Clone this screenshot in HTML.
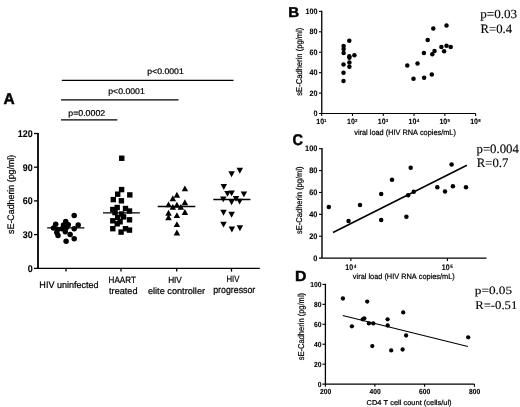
<!DOCTYPE html>
<html><head><meta charset="utf-8"><style>
html,body{margin:0;padding:0;background:#fff;}
body{width:520px;height:407px;overflow:hidden;}
svg{display:block;filter:grayscale(1);font-kerning:none;text-rendering:geometricPrecision;}
</style></head><body>
<svg width="520" height="407" viewBox="0 0 520 407">
<rect width="520" height="407" fill="#fff"/>
<line x1="38.00" y1="132.90" x2="38.00" y2="268.30" stroke="#000" stroke-width="1.8"/>
<line x1="34.00" y1="234.60" x2="38.00" y2="234.60" stroke="#000" stroke-width="1.3"/>
<line x1="34.00" y1="200.90" x2="38.00" y2="200.90" stroke="#000" stroke-width="1.3"/>
<line x1="34.00" y1="167.20" x2="38.00" y2="167.20" stroke="#000" stroke-width="1.3"/>
<line x1="34.00" y1="133.50" x2="38.00" y2="133.50" stroke="#000" stroke-width="1.3"/>
<line x1="34.00" y1="268.30" x2="259.80" y2="268.30" stroke="#000" stroke-width="1.3"/>
<line x1="66.00" y1="268.30" x2="66.00" y2="271.60" stroke="#000" stroke-width="1.3"/>
<line x1="121.00" y1="268.30" x2="121.00" y2="271.60" stroke="#000" stroke-width="1.3"/>
<line x1="176.70" y1="268.30" x2="176.70" y2="271.60" stroke="#000" stroke-width="1.3"/>
<line x1="231.50" y1="268.30" x2="231.50" y2="271.60" stroke="#000" stroke-width="1.3"/>
<text transform="translate(17.78 136.95) scale(0.9200 1)" font-family="'Liberation Sans', sans-serif" font-weight="bold" font-size="9.700" stroke="#000" stroke-width="0.1">120</text>
<text transform="translate(22.74 170.65) scale(0.9200 1)" font-family="'Liberation Sans', sans-serif" font-weight="bold" font-size="9.700" stroke="#000" stroke-width="0.1">90</text>
<text transform="translate(22.74 204.35) scale(0.9200 1)" font-family="'Liberation Sans', sans-serif" font-weight="bold" font-size="9.700" stroke="#000" stroke-width="0.1">60</text>
<text transform="translate(22.74 238.05) scale(0.9200 1)" font-family="'Liberation Sans', sans-serif" font-weight="bold" font-size="9.700" stroke="#000" stroke-width="0.1">30</text>
<text transform="translate(27.70 271.75) scale(0.9200 1)" font-family="'Liberation Sans', sans-serif" font-weight="bold" font-size="9.700" stroke="#000" stroke-width="0.1">0</text>
<text transform="translate(13.65 233.95) rotate(-90) scale(0.9381 1)" font-family="'Liberation Sans', sans-serif" font-weight="normal" font-size="9.448" stroke="#000" stroke-width="0.22">sE-Cadherin (pg/ml)</text>
<text transform="translate(3.41 103.80) scale(0.9967 1)" font-family="'Liberation Sans', sans-serif" font-weight="bold" font-size="15.553" stroke="#000" stroke-width="0.45" fill="#000">A</text>
<line x1="61.80" y1="80.40" x2="233.50" y2="80.40" stroke="#000" stroke-width="1.3"/>
<line x1="61.10" y1="99.90" x2="178.50" y2="99.90" stroke="#000" stroke-width="1.3"/>
<line x1="61.00" y1="119.90" x2="117.30" y2="119.90" stroke="#000" stroke-width="1.3"/>
<text transform="translate(147.24 73.80) scale(1.0865 1)" font-family="'Liberation Sans', sans-serif" font-weight="normal" font-size="8.020" stroke="#000" stroke-width="0.22" fill="#000">p&lt;0.0001</text>
<text transform="translate(108.24 94.20) scale(1.0490 1)" font-family="'Liberation Sans', sans-serif" font-weight="normal" font-size="8.307" stroke="#000" stroke-width="0.22" fill="#000">p&lt;0.0001</text>
<text transform="translate(68.23 115.60) scale(1.0432 1)" font-family="'Liberation Sans', sans-serif" font-weight="normal" font-size="8.450" stroke="#000" stroke-width="0.22" fill="#000">p=0.0002</text>
<text transform="translate(39.36 287.80) scale(0.9706 1)" font-family="'Liberation Sans', sans-serif" font-weight="normal" font-size="9.302" stroke="#000" stroke-width="0.22" fill="#000">HIV uninfected</text>
<text transform="translate(108.54 282.50) scale(0.8845 1)" font-family="'Liberation Sans', sans-serif" font-weight="normal" font-size="9.157" stroke="#000" stroke-width="0.22" fill="#000">HAART</text>
<text transform="translate(109.06 293.60) scale(0.9875 1)" font-family="'Liberation Sans', sans-serif" font-weight="normal" font-size="9.246" stroke="#000" stroke-width="0.22" fill="#000">treated</text>
<text transform="translate(168.13 282.50) scale(0.9276 1)" font-family="'Liberation Sans', sans-serif" font-weight="normal" font-size="8.866" stroke="#000" stroke-width="0.22" fill="#000">HIV</text>
<text transform="translate(147.91 294.00) scale(1.0096 1)" font-family="'Liberation Sans', sans-serif" font-weight="normal" font-size="9.108" stroke="#000" stroke-width="0.22" fill="#000">elite controller</text>
<text transform="translate(226.47 281.60) scale(0.8565 1)" font-family="'Liberation Sans', sans-serif" font-weight="normal" font-size="9.012" stroke="#000" stroke-width="0.22" fill="#000">HIV</text>
<text transform="translate(213.13 292.80) scale(0.9139 1)" font-family="'Liberation Sans', sans-serif" font-weight="normal" font-size="9.664" stroke="#000" stroke-width="0.22" fill="#000">progressor</text>
<circle cx="74.2" cy="215.5" r="2.75"/>
<circle cx="55.7" cy="224.3" r="2.75"/>
<circle cx="65.7" cy="221.4" r="2.75"/>
<circle cx="78.2" cy="225.1" r="2.75"/>
<circle cx="53.5" cy="228" r="2.75"/>
<circle cx="63.5" cy="225.1" r="2.75"/>
<circle cx="68.3" cy="224.7" r="2.75"/>
<circle cx="74.2" cy="228.7" r="2.75"/>
<circle cx="57.6" cy="229.5" r="2.75"/>
<circle cx="62" cy="228.7" r="2.75"/>
<circle cx="65.3" cy="231.7" r="2.75"/>
<circle cx="70.1" cy="234.6" r="2.75"/>
<circle cx="58" cy="235.4" r="2.75"/>
<circle cx="74.2" cy="238.7" r="2.75"/>
<circle cx="66.1" cy="241.3" r="2.75"/>
<circle cx="66.4" cy="227.6" r="2.75"/>
<circle cx="56.8" cy="232.4" r="2.75"/>
<line x1="47.20" y1="227.90" x2="84.40" y2="227.90" stroke="#000" stroke-width="1.4"/>
<rect x="119.05" y="155.55" width="5.4" height="5.4"/>
<rect x="118.90" y="186.90" width="5.4" height="5.4"/>
<rect x="115.00" y="191.50" width="5.4" height="5.4"/>
<rect x="127.10" y="192.20" width="5.4" height="5.4"/>
<rect x="110.60" y="196.90" width="5.4" height="5.4"/>
<rect x="118.70" y="198.10" width="5.4" height="5.4"/>
<rect x="114.50" y="204.80" width="5.4" height="5.4"/>
<rect x="110.10" y="206.80" width="5.4" height="5.4"/>
<rect x="122.80" y="205.80" width="5.4" height="5.4"/>
<rect x="126.80" y="208.30" width="5.4" height="5.4"/>
<rect x="118.90" y="211.30" width="5.4" height="5.4"/>
<rect x="115.00" y="214.70" width="5.4" height="5.4"/>
<rect x="110.10" y="218.10" width="5.4" height="5.4"/>
<rect x="126.80" y="217.10" width="5.4" height="5.4"/>
<rect x="120.90" y="214.20" width="5.4" height="5.4"/>
<rect x="117.40" y="219.10" width="5.4" height="5.4"/>
<rect x="114.50" y="221.10" width="5.4" height="5.4"/>
<rect x="110.10" y="226.00" width="5.4" height="5.4"/>
<rect x="118.40" y="229.40" width="5.4" height="5.4"/>
<rect x="122.80" y="226.00" width="5.4" height="5.4"/>
<rect x="126.80" y="227.40" width="5.4" height="5.4"/>
<rect x="112.30" y="209.90" width="5.4" height="5.4"/>
<line x1="103.00" y1="212.90" x2="139.80" y2="212.90" stroke="#000" stroke-width="1.4"/>
<polygon points="184.90,185.45 188.15,191.35 181.65,191.35"/>
<polygon points="176.90,191.85 180.15,197.75 173.65,197.75"/>
<polygon points="172.80,195.35 176.05,201.25 169.55,201.25"/>
<polygon points="184.90,199.25 188.15,205.15 181.65,205.15"/>
<polygon points="168.50,201.45 171.75,207.35 165.25,207.35"/>
<polygon points="172.80,203.95 176.05,209.85 169.55,209.85"/>
<polygon points="176.90,201.75 180.15,207.65 173.65,207.65"/>
<polygon points="180.80,203.95 184.05,209.85 177.55,209.85"/>
<polygon points="168.50,209.75 171.75,215.65 165.25,215.65"/>
<polygon points="184.90,209.05 188.15,214.95 181.65,214.95"/>
<polygon points="176.90,212.15 180.15,218.05 173.65,218.05"/>
<polygon points="168.50,214.25 171.75,220.15 165.25,220.15"/>
<polygon points="176.90,221.15 180.15,227.05 173.65,227.05"/>
<polygon points="176.90,229.55 180.15,235.45 173.65,235.45"/>
<line x1="157.70" y1="206.50" x2="195.30" y2="206.50" stroke="#000" stroke-width="1.4"/>
<polygon points="239.80,173.75 243.05,167.85 236.55,167.85"/>
<polygon points="231.60,177.15 234.85,171.25 228.35,171.25"/>
<polygon points="223.80,189.95 227.05,184.05 220.55,184.05"/>
<polygon points="227.50,196.85 230.75,190.95 224.25,190.95"/>
<polygon points="231.60,196.35 234.85,190.45 228.35,190.45"/>
<polygon points="243.90,197.35 247.15,191.45 240.65,191.45"/>
<polygon points="223.30,202.35 226.55,196.45 220.05,196.45"/>
<polygon points="231.60,205.15 234.85,199.25 228.35,199.25"/>
<polygon points="236.00,201.85 239.25,195.95 232.75,195.95"/>
<polygon points="239.60,204.55 242.85,198.65 236.35,198.65"/>
<polygon points="223.50,215.65 226.75,209.75 220.25,209.75"/>
<polygon points="231.60,217.65 234.85,211.75 228.35,211.75"/>
<polygon points="223.50,227.55 226.75,221.65 220.25,221.65"/>
<polygon points="231.90,232.45 235.15,226.55 228.65,226.55"/>
<polygon points="239.90,231.15 243.15,225.25 236.65,225.25"/>
<line x1="213.30" y1="199.50" x2="250.40" y2="199.50" stroke="#000" stroke-width="1.4"/>
<line x1="321.75" y1="10.80" x2="321.75" y2="113.50" stroke="#000" stroke-width="1.3"/>
<line x1="319.00" y1="93.08" x2="321.75" y2="93.08" stroke="#000" stroke-width="1.1"/>
<line x1="319.00" y1="72.66" x2="321.75" y2="72.66" stroke="#000" stroke-width="1.1"/>
<line x1="319.00" y1="52.24" x2="321.75" y2="52.24" stroke="#000" stroke-width="1.1"/>
<line x1="319.00" y1="31.82" x2="321.75" y2="31.82" stroke="#000" stroke-width="1.1"/>
<line x1="319.00" y1="11.40" x2="321.75" y2="11.40" stroke="#000" stroke-width="1.1"/>
<line x1="319.00" y1="113.50" x2="475.60" y2="113.50" stroke="#000" stroke-width="1.2"/>
<line x1="321.70" y1="113.50" x2="321.70" y2="116.00" stroke="#000" stroke-width="1.1"/>
<line x1="352.48" y1="113.50" x2="352.48" y2="116.00" stroke="#000" stroke-width="1.1"/>
<line x1="383.26" y1="113.50" x2="383.26" y2="116.00" stroke="#000" stroke-width="1.1"/>
<line x1="414.04" y1="113.50" x2="414.04" y2="116.00" stroke="#000" stroke-width="1.1"/>
<line x1="444.82" y1="113.50" x2="444.82" y2="116.00" stroke="#000" stroke-width="1.1"/>
<line x1="475.60" y1="113.50" x2="475.60" y2="116.00" stroke="#000" stroke-width="1.1"/>
<text transform="translate(305.42 13.90) scale(0.9200 1)" font-family="'Liberation Sans', sans-serif" font-weight="bold" font-size="7.800" stroke="#000" stroke-width="0.1">100</text>
<text transform="translate(309.41 34.32) scale(0.9200 1)" font-family="'Liberation Sans', sans-serif" font-weight="bold" font-size="7.800" stroke="#000" stroke-width="0.1">80</text>
<text transform="translate(309.41 54.74) scale(0.9200 1)" font-family="'Liberation Sans', sans-serif" font-weight="bold" font-size="7.800" stroke="#000" stroke-width="0.1">60</text>
<text transform="translate(309.41 75.16) scale(0.9200 1)" font-family="'Liberation Sans', sans-serif" font-weight="bold" font-size="7.800" stroke="#000" stroke-width="0.1">40</text>
<text transform="translate(309.41 95.58) scale(0.9200 1)" font-family="'Liberation Sans', sans-serif" font-weight="bold" font-size="7.800" stroke="#000" stroke-width="0.1">20</text>
<text transform="translate(313.40 116.00) scale(0.9200 1)" font-family="'Liberation Sans', sans-serif" font-weight="bold" font-size="7.800" stroke="#000" stroke-width="0.1">0</text>
<text transform="translate(316.26 124.00) scale(0.9105 1)" font-family="'Liberation Sans', sans-serif" font-weight="bold" font-size="7.734" stroke="#000" stroke-width="0.1" fill="#000">10</text>
<text transform="translate(324.12 121.70) scale(1.0000 1)" font-family="'Liberation Sans', sans-serif" font-weight="bold" font-size="4.400" stroke="#000" stroke-width="0.1">1</text>
<text transform="translate(347.04 124.00) scale(0.9105 1)" font-family="'Liberation Sans', sans-serif" font-weight="bold" font-size="7.734" stroke="#000" stroke-width="0.1" fill="#000">10</text>
<text transform="translate(355.03 121.70) scale(1.0000 1)" font-family="'Liberation Sans', sans-serif" font-weight="bold" font-size="4.400" stroke="#000" stroke-width="0.1">2</text>
<text transform="translate(377.82 124.00) scale(0.9105 1)" font-family="'Liberation Sans', sans-serif" font-weight="bold" font-size="7.734" stroke="#000" stroke-width="0.1" fill="#000">10</text>
<text transform="translate(385.86 121.70) scale(1.0000 1)" font-family="'Liberation Sans', sans-serif" font-weight="bold" font-size="4.400" stroke="#000" stroke-width="0.1">3</text>
<text transform="translate(408.60 124.00) scale(0.9105 1)" font-family="'Liberation Sans', sans-serif" font-weight="bold" font-size="7.734" stroke="#000" stroke-width="0.1" fill="#000">10</text>
<text transform="translate(416.67 121.70) scale(1.0000 1)" font-family="'Liberation Sans', sans-serif" font-weight="bold" font-size="4.400" stroke="#000" stroke-width="0.1">4</text>
<text transform="translate(439.38 124.00) scale(0.9105 1)" font-family="'Liberation Sans', sans-serif" font-weight="bold" font-size="7.734" stroke="#000" stroke-width="0.1" fill="#000">10</text>
<text transform="translate(447.38 121.70) scale(1.0000 1)" font-family="'Liberation Sans', sans-serif" font-weight="bold" font-size="4.400" stroke="#000" stroke-width="0.1">5</text>
<text transform="translate(470.16 124.00) scale(0.9105 1)" font-family="'Liberation Sans', sans-serif" font-weight="bold" font-size="7.734" stroke="#000" stroke-width="0.1" fill="#000">10</text>
<text transform="translate(478.14 121.70) scale(1.0000 1)" font-family="'Liberation Sans', sans-serif" font-weight="bold" font-size="4.400" stroke="#000" stroke-width="0.1">6</text>
<text transform="translate(354.27 134.60) scale(0.9548 1)" font-family="'Liberation Sans', sans-serif" font-weight="normal" font-size="7.703" stroke="#000" stroke-width="0.22" fill="#000">viral load (HIV RNA copies/mL)</text>
<text transform="translate(301.90 95.71) rotate(-90) scale(0.9026 1)" font-family="'Liberation Sans', sans-serif" font-weight="normal" font-size="8.430" stroke="#000" stroke-width="0.22">sE-Cadherin (pg/ml)</text>
<text transform="translate(288.19 17.10) scale(1.0700 1)" font-family="'Liberation Sans', sans-serif" font-weight="bold" font-size="14.099" stroke="#000" stroke-width="0.45" fill="#000">B</text>
<circle cx="349.3" cy="40.8" r="2.25"/>
<circle cx="343.6" cy="45.9" r="2.25"/>
<circle cx="343.6" cy="49" r="2.25"/>
<circle cx="343.6" cy="53.1" r="2.25"/>
<circle cx="349.3" cy="56.3" r="2.25"/>
<circle cx="354.4" cy="55.3" r="2.25"/>
<circle cx="349.4" cy="57.8" r="2.25"/>
<circle cx="349.4" cy="62.4" r="2.25"/>
<circle cx="343.5" cy="64.4" r="2.25"/>
<circle cx="349.4" cy="66.8" r="2.25"/>
<circle cx="343.5" cy="72.7" r="2.25"/>
<circle cx="343.5" cy="80.9" r="2.25"/>
<circle cx="446.5" cy="25.6" r="2.25"/>
<circle cx="433.3" cy="28.6" r="2.25"/>
<circle cx="427.7" cy="39.9" r="2.25"/>
<circle cx="441.4" cy="47" r="2.25"/>
<circle cx="446.5" cy="45.7" r="2.25"/>
<circle cx="450.7" cy="47" r="2.25"/>
<circle cx="444.1" cy="51.2" r="2.25"/>
<circle cx="434.5" cy="50.9" r="2.25"/>
<circle cx="432.3" cy="54.2" r="2.25"/>
<circle cx="423.9" cy="53.1" r="2.25"/>
<circle cx="417.5" cy="63.5" r="2.25"/>
<circle cx="407.3" cy="65.4" r="2.25"/>
<circle cx="431.8" cy="74.6" r="2.25"/>
<circle cx="424.1" cy="77.7" r="2.25"/>
<circle cx="413.5" cy="78.7" r="2.25"/>
<text transform="translate(480.19 17.90) scale(1.0514 1)" font-family="'Liberation Serif', serif" font-weight="normal" font-size="12.480" stroke="#000" stroke-width="0.12" fill="#000">p=0.03</text>
<text transform="translate(480.43 32.60) scale(0.9953 1)" font-family="'Liberation Serif', serif" font-weight="normal" font-size="12.824" stroke="#000" stroke-width="0.12" fill="#000">R=0.4</text>
<line x1="322.00" y1="148.10" x2="322.00" y2="258.10" stroke="#000" stroke-width="1.4"/>
<line x1="319.00" y1="236.22" x2="322.00" y2="236.22" stroke="#000" stroke-width="1.1"/>
<line x1="319.00" y1="214.34" x2="322.00" y2="214.34" stroke="#000" stroke-width="1.1"/>
<line x1="319.00" y1="192.46" x2="322.00" y2="192.46" stroke="#000" stroke-width="1.1"/>
<line x1="319.00" y1="170.58" x2="322.00" y2="170.58" stroke="#000" stroke-width="1.1"/>
<line x1="319.00" y1="148.70" x2="322.00" y2="148.70" stroke="#000" stroke-width="1.1"/>
<line x1="319.00" y1="258.20" x2="486.50" y2="258.20" stroke="#000" stroke-width="1.3"/>
<line x1="350.90" y1="258.20" x2="350.90" y2="260.90" stroke="#000" stroke-width="1.1"/>
<line x1="447.40" y1="258.20" x2="447.40" y2="260.90" stroke="#000" stroke-width="1.1"/>
<text transform="translate(305.12 151.40) scale(0.9200 1)" font-family="'Liberation Sans', sans-serif" font-weight="bold" font-size="8.000" stroke="#000" stroke-width="0.1">100</text>
<text transform="translate(309.22 173.28) scale(0.9200 1)" font-family="'Liberation Sans', sans-serif" font-weight="bold" font-size="8.000" stroke="#000" stroke-width="0.1">80</text>
<text transform="translate(309.22 195.16) scale(0.9200 1)" font-family="'Liberation Sans', sans-serif" font-weight="bold" font-size="8.000" stroke="#000" stroke-width="0.1">60</text>
<text transform="translate(309.22 217.04) scale(0.9200 1)" font-family="'Liberation Sans', sans-serif" font-weight="bold" font-size="8.000" stroke="#000" stroke-width="0.1">40</text>
<text transform="translate(309.22 238.92) scale(0.9200 1)" font-family="'Liberation Sans', sans-serif" font-weight="bold" font-size="8.000" stroke="#000" stroke-width="0.1">20</text>
<text transform="translate(313.31 260.80) scale(0.9200 1)" font-family="'Liberation Sans', sans-serif" font-weight="bold" font-size="8.000" stroke="#000" stroke-width="0.1">0</text>
<text transform="translate(345.26 269.50) scale(0.8626 1)" font-family="'Liberation Sans', sans-serif" font-weight="bold" font-size="8.163" stroke="#000" stroke-width="0.1" fill="#000">10</text>
<text transform="translate(353.83 267.50) scale(1.0000 1)" font-family="'Liberation Sans', sans-serif" font-weight="bold" font-size="4.600" stroke="#000" stroke-width="0.1">4</text>
<text transform="translate(441.76 269.50) scale(0.8626 1)" font-family="'Liberation Sans', sans-serif" font-weight="bold" font-size="8.163" stroke="#000" stroke-width="0.1" fill="#000">10</text>
<text transform="translate(450.26 267.50) scale(1.0000 1)" font-family="'Liberation Sans', sans-serif" font-weight="bold" font-size="4.600" stroke="#000" stroke-width="0.1">5</text>
<text transform="translate(352.87 278.70) scale(0.9577 1)" font-family="'Liberation Sans', sans-serif" font-weight="normal" font-size="7.703" stroke="#000" stroke-width="0.22" fill="#000">viral load (HIV RNA copies/mL)</text>
<text transform="translate(302.10 234.01) rotate(-90) scale(0.8959 1)" font-family="'Liberation Sans', sans-serif" font-weight="normal" font-size="8.430" stroke="#000" stroke-width="0.22">sE-Cadherin (pg/ml)</text>
<text transform="translate(292.60 144.50) scale(0.9394 1)" font-family="'Liberation Sans', sans-serif" font-weight="bold" font-size="15.467" stroke="#000" stroke-width="0.45" fill="#000">C</text>
<circle cx="328.8" cy="206.9" r="2.25"/>
<circle cx="348.5" cy="221.1" r="2.25"/>
<circle cx="360" cy="205" r="2.25"/>
<circle cx="381.2" cy="194" r="2.25"/>
<circle cx="381.2" cy="220.1" r="2.25"/>
<circle cx="392" cy="179.8" r="2.25"/>
<circle cx="410.7" cy="167.7" r="2.25"/>
<circle cx="408.1" cy="195.2" r="2.25"/>
<circle cx="413.8" cy="191.8" r="2.25"/>
<circle cx="406.4" cy="216.7" r="2.25"/>
<circle cx="451.6" cy="164.4" r="2.25"/>
<circle cx="437.3" cy="187.3" r="2.25"/>
<circle cx="445" cy="191.6" r="2.25"/>
<circle cx="452.9" cy="186.3" r="2.25"/>
<circle cx="466" cy="187.3" r="2.25"/>
<line x1="333.00" y1="232.50" x2="466.90" y2="165.30" stroke="#000" stroke-width="1.6"/>
<text transform="translate(476.49 153.10) scale(0.9895 1)" font-family="'Liberation Serif', serif" font-weight="normal" font-size="12.932" stroke="#000" stroke-width="0.12" fill="#000">p=0.004</text>
<text transform="translate(476.73 167.40) scale(0.9975 1)" font-family="'Liberation Serif', serif" font-weight="normal" font-size="12.824" stroke="#000" stroke-width="0.12" fill="#000">R=0.7</text>
<line x1="325.40" y1="283.80" x2="325.40" y2="384.10" stroke="#000" stroke-width="1.3"/>
<line x1="322.40" y1="364.16" x2="325.40" y2="364.16" stroke="#000" stroke-width="1.1"/>
<line x1="322.40" y1="344.22" x2="325.40" y2="344.22" stroke="#000" stroke-width="1.1"/>
<line x1="322.40" y1="324.28" x2="325.40" y2="324.28" stroke="#000" stroke-width="1.1"/>
<line x1="322.40" y1="304.34" x2="325.40" y2="304.34" stroke="#000" stroke-width="1.1"/>
<line x1="322.40" y1="284.40" x2="325.40" y2="284.40" stroke="#000" stroke-width="1.1"/>
<line x1="322.40" y1="384.10" x2="474.40" y2="384.10" stroke="#000" stroke-width="1.3"/>
<line x1="325.40" y1="384.10" x2="325.40" y2="386.80" stroke="#000" stroke-width="1.1"/>
<line x1="374.90" y1="384.10" x2="374.90" y2="386.80" stroke="#000" stroke-width="1.1"/>
<line x1="424.60" y1="384.10" x2="424.60" y2="386.80" stroke="#000" stroke-width="1.1"/>
<line x1="474.40" y1="384.10" x2="474.40" y2="386.80" stroke="#000" stroke-width="1.1"/>
<text transform="translate(310.27 286.80) scale(0.9200 1)" font-family="'Liberation Sans', sans-serif" font-weight="bold" font-size="7.300" stroke="#000" stroke-width="0.1">100</text>
<text transform="translate(314.01 306.74) scale(0.9200 1)" font-family="'Liberation Sans', sans-serif" font-weight="bold" font-size="7.300" stroke="#000" stroke-width="0.1">80</text>
<text transform="translate(314.01 326.68) scale(0.9200 1)" font-family="'Liberation Sans', sans-serif" font-weight="bold" font-size="7.300" stroke="#000" stroke-width="0.1">60</text>
<text transform="translate(314.01 346.62) scale(0.9200 1)" font-family="'Liberation Sans', sans-serif" font-weight="bold" font-size="7.300" stroke="#000" stroke-width="0.1">40</text>
<text transform="translate(314.01 366.56) scale(0.9200 1)" font-family="'Liberation Sans', sans-serif" font-weight="bold" font-size="7.300" stroke="#000" stroke-width="0.1">20</text>
<text transform="translate(317.74 386.50) scale(0.9200 1)" font-family="'Liberation Sans', sans-serif" font-weight="bold" font-size="7.300" stroke="#000" stroke-width="0.1">0</text>
<text transform="translate(319.92 394.10) scale(0.9200 1)" font-family="'Liberation Sans', sans-serif" font-weight="bold" font-size="7.300" stroke="#000" stroke-width="0.1">200</text>
<text transform="translate(369.58 394.10) scale(0.9200 1)" font-family="'Liberation Sans', sans-serif" font-weight="bold" font-size="7.300" stroke="#000" stroke-width="0.1">400</text>
<text transform="translate(419.01 394.10) scale(0.9200 1)" font-family="'Liberation Sans', sans-serif" font-weight="bold" font-size="7.300" stroke="#000" stroke-width="0.1">600</text>
<text transform="translate(468.93 394.10) scale(0.9200 1)" font-family="'Liberation Sans', sans-serif" font-weight="bold" font-size="7.300" stroke="#000" stroke-width="0.1">800</text>
<text transform="translate(366.52 404.50) scale(1.0506 1)" font-family="'Liberation Sans', sans-serif" font-weight="normal" font-size="7.122" stroke="#000" stroke-width="0.22" fill="#000">CD4 T cell count (cells/ul)</text>
<text transform="translate(304.20 360.21) rotate(-90) scale(0.8781 1)" font-family="'Liberation Sans', sans-serif" font-weight="normal" font-size="8.576" stroke="#000" stroke-width="0.22">sE-Cadherin (pg/ml)</text>
<text transform="translate(295.04 281.20) scale(1.0774 1)" font-family="'Liberation Sans', sans-serif" font-weight="bold" font-size="14.680" stroke="#000" stroke-width="0.45" fill="#000">D</text>
<circle cx="342.9" cy="298.5" r="2.15"/>
<circle cx="367.2" cy="301.6" r="2.15"/>
<circle cx="362.7" cy="319.3" r="2.15"/>
<circle cx="364.3" cy="318.3" r="2.15"/>
<circle cx="368.9" cy="323.4" r="2.15"/>
<circle cx="373.3" cy="323.4" r="2.15"/>
<circle cx="351.9" cy="326.3" r="2.15"/>
<circle cx="387.6" cy="319.3" r="2.15"/>
<circle cx="387.7" cy="325.5" r="2.15"/>
<circle cx="403.2" cy="312.4" r="2.15"/>
<circle cx="406.1" cy="335.5" r="2.15"/>
<circle cx="372.3" cy="346.1" r="2.15"/>
<circle cx="391.2" cy="350.4" r="2.15"/>
<circle cx="402.6" cy="349.5" r="2.15"/>
<circle cx="468.2" cy="337.3" r="2.15"/>
<line x1="342.70" y1="315.50" x2="467.90" y2="346.50" stroke="#000" stroke-width="1.25"/>
<text transform="translate(474.79 294.30) scale(1.1923 1)" font-family="'Liberation Serif', serif" font-weight="normal" font-size="11.127" stroke="#000" stroke-width="0.12" fill="#000">p=0.05</text>
<text transform="translate(475.23 308.80) scale(1.0675 1)" font-family="'Liberation Serif', serif" font-weight="normal" font-size="11.908" stroke="#000" stroke-width="0.12" fill="#000">R=-0.51</text>
</svg>
</body></html>
